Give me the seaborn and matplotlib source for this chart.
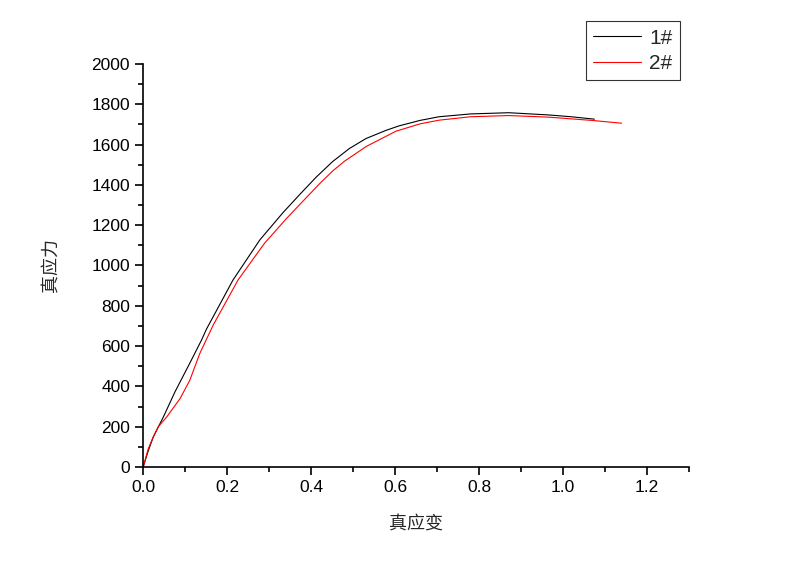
import matplotlib
matplotlib.use("Agg")
import matplotlib.pyplot as plt
from matplotlib.ticker import MultipleLocator
import seaborn as sns
import pandas as pd

# true strain / true stress readings for the two specimens
strain_1 = [0.0, 0.012, 0.024, 0.048, 0.076, 0.111, 0.139, 0.151, 0.214, 0.278, 0.333,
            0.372, 0.412, 0.451, 0.491, 0.531, 0.578, 0.61, 0.66, 0.705, 0.78, 0.871,
            0.966, 1.02, 1.075]
stress_1 = [0, 80, 149, 248, 374, 515, 630, 685, 928, 1127, 1262,
            1350, 1438, 1515, 1580, 1630, 1670, 1693, 1720, 1738, 1752, 1758,
            1747, 1738, 1726]

strain_2 = [0.0, 0.012, 0.024, 0.036, 0.056, 0.088, 0.111, 0.135, 0.167, 0.226, 0.289,
            0.341, 0.376, 0.42, 0.451, 0.48, 0.507, 0.531, 0.602, 0.66, 0.705, 0.78,
            0.871, 0.966, 1.068, 1.14]
stress_2 = [0, 90, 149, 200, 248, 340, 430, 564, 705, 928, 1110,
            1232, 1309, 1405, 1468, 1518, 1556, 1590, 1666, 1703, 1721, 1738,
            1744, 1736, 1720, 1706]

labels = ["1#", "2#"]
colors = ["black", "red"]

df = pd.concat([
    pd.DataFrame({"strain": strain_1, "stress": stress_1, "sample": labels[0]}),
    pd.DataFrame({"strain": strain_2, "stress": stress_2, "sample": labels[1]}),
])

sns.set_style("ticks")
plt.rcParams["font.family"] = ["Liberation Sans", "Noto Sans CJK SC", "DejaVu Sans"]

fig = plt.figure(figsize=(8, 5.61), dpi=100)
ax = fig.add_axes([0.179, 0.1676, 0.682, 0.7184])

sns.lineplot(data=df, x="strain", y="stress", hue="sample", palette=colors,
             sort=False, estimator=None, linewidth=0.8, ax=ax, legend=False)

ax.set_xlim(0, 1.3)
ax.set_ylim(0, 2000)
ax.xaxis.set_minor_locator(MultipleLocator(0.1))
ax.yaxis.set_major_locator(MultipleLocator(200))
ax.yaxis.set_minor_locator(MultipleLocator(100))
ax.set_xticks([0, 0.2, 0.4, 0.6, 0.8, 1.0, 1.2])
ax.set_xticklabels(["0.0", "0.2", "0.4", "0.6", "0.8", "1.0", "1.2"])

for s in ["top", "right"]:
    ax.spines[s].set_visible(False)
for s in ["left", "bottom"]:
    ax.spines[s].set_linewidth(1.2)
    ax.spines[s].set_color("black")

ax.tick_params(which="major", direction="out", length=6, width=1.2, labelsize=12.5, colors="black")
ax.tick_params(which="minor", direction="out", length=3.5, width=1.2, colors="black")

ax.set_xlabel("真应变", fontsize=13, family=["Noto Sans CJK SC"], labelpad=15)
ax.set_ylabel("真应力", fontsize=13, family=["Noto Sans CJK SC"], labelpad=22)

handles = [plt.Line2D([], [], color=c, linewidth=0.8) for c in colors]
leg = fig.legend(handles, labels, loc="upper right", bbox_to_anchor=(0.85, 0.962),
                 frameon=True, fancybox=False, edgecolor="black", fontsize=15,
                 handlelength=2.3, borderpad=0.35, labelspacing=0.3, handletextpad=0.4,
                 borderaxespad=0)
leg.get_frame().set_linewidth(0.8)

fig.savefig("out.png", dpi=100)
